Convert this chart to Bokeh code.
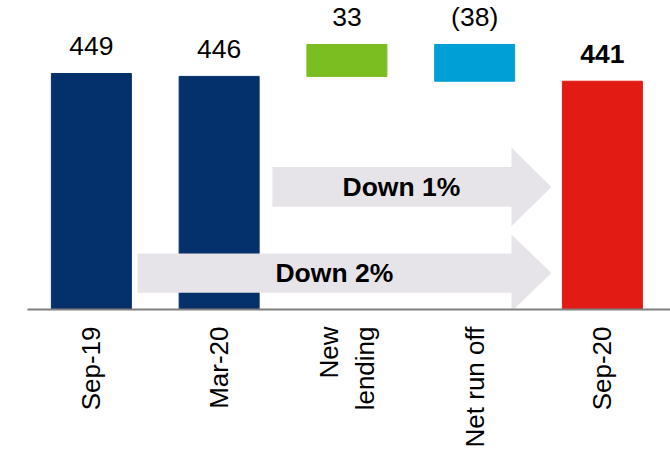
import math
from bokeh.plotting import figure
from bokeh.models import Range1d, FixedTicker, ColumnDataSource
from bokeh.core.properties import value, field
from bokeh.embed import file_html
from bokeh.resources import INLINE

# ---- data ----
categories = ["Sep-19", "Mar-20", "New\nlending", "Net run off", "Sep-20"]
amounts = [449, 446, 33, -38, 441]
value_labels = ["449", "446", "33", "(38)", "441"]
kinds = ["total", "total", "delta", "delta", "total"]
bar_colors = ["#04306B", "#04306B", "#7BBE22", "#00A0D6", "#E31B15"]
label_styles = ["normal", "normal", "normal", "normal", "bold"]

arrow_texts = ["Down 1%", "Down 2%"]

# ---- derived waterfall geometry ----
y_start = 204.9
y_end = 524.5
xs = list(range(len(categories)))
bottoms, tops = [], []
running = 0
for a, k in zip(amounts, kinds):
    if k == "total":
        bottoms.append(y_start)
        tops.append(a)
        running = a
    else:
        new = running + a
        bottoms.append(min(running, new))
        tops.append(max(running, new))
        running = new

src = ColumnDataSource(dict(x=xs, bottom=bottoms, top=tops, color=bar_colors,
                            label=value_labels, style=label_styles))

p = figure(width=670, height=450, output_backend="svg", toolbar_location=None,
           x_range=Range1d(-0.5, 4.533), y_range=Range1d(y_start, y_end),
           y_axis_location=None, min_border_left=27, min_border_right=0,
           min_border_top=0, min_border_bottom=140)
p.outline_line_color = None
p.xgrid.visible = False
p.ygrid.visible = False
p.background_fill_color = "white"
p.border_fill_color = "white"

p.vbar(x="x", bottom="bottom", top="top", width=0.626, color="color", source=src)

FONT = "Liberation Sans"
p.text(x="x", y="top", text="label", source=src, text_align="center",
       text_baseline="middle", y_offset=-27, text_font=value(FONT),
       text_font_size="26.5px", text_color="black", text_font_style=field("style"))

# ---- arrow annotations (data coordinates) ----
arrow_x0 = [1.417, 0.36]
arrow_x1 = [3.288, 3.288]
arrow_tip = [3.601, 3.601]
arrow_yc = [331.7, 242.6]
arrow_body_half = [20.6, 20.3]
arrow_head_half = [40.7, 40.0]
arrow_text_x = [2.427, 1.902]

for i in [1, 0]:
    x0, x1, xt = arrow_x0[i], arrow_x1[i], arrow_tip[i]
    yc, bh, hh = arrow_yc[i], arrow_body_half[i], arrow_head_half[i]
    px = [x0, x1, x1, xt, x1, x1, x0]
    py = [yc - bh, yc - bh, yc - hh, yc, yc + hh, yc + bh, yc + bh]
    p.patch(px, py, fill_color="#E6E4E8", line_color=None)
    p.text(x=[arrow_text_x[i]], y=[yc], text=[arrow_texts[i]], text_align="center",
           text_baseline="middle", text_font=value(FONT), text_font_size="26.5px",
           text_font_style="bold", text_color="black")

ax = p.xaxis[0]
ax.ticker = FixedTicker(ticks=xs)
ax.major_label_overrides = {i: c for i, c in zip(xs, categories)}
ax.major_label_orientation = math.pi / 2
ax.major_tick_line_color = None
ax.minor_tick_line_color = None
ax.major_tick_out = 0
ax.major_tick_in = 0
ax.major_label_standoff = 17
ax.axis_line_color = "#808080"
ax.axis_line_width = 2
ax.major_label_text_font = FONT
ax.major_label_text_font_size = "26px"
ax.major_label_text_color = "black"

open("out.html", "w").write(file_html(p, INLINE))
